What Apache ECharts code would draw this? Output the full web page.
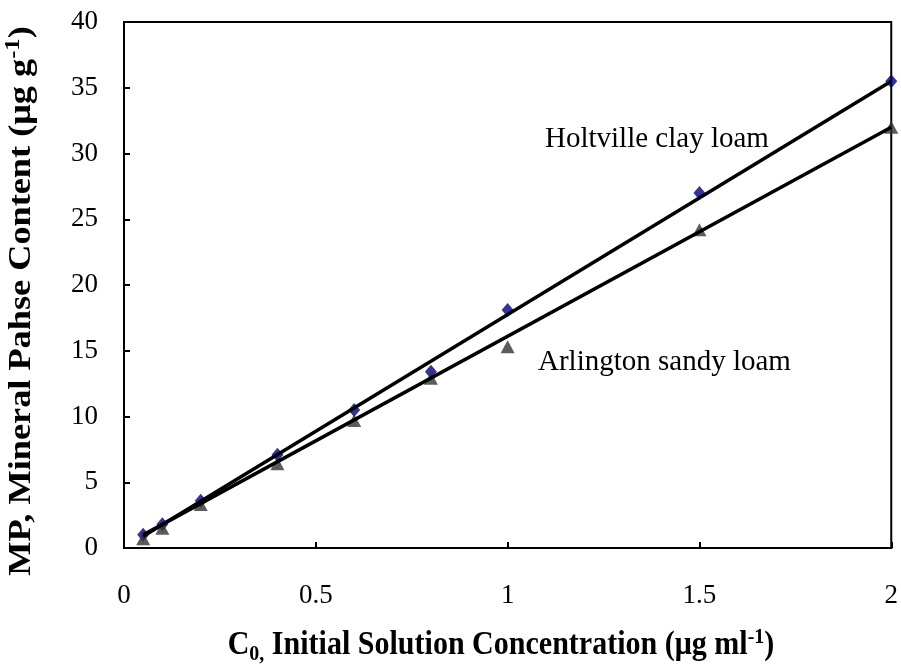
<!DOCTYPE html>
<html>
<head>
<meta charset="utf-8">
<script src="https://cdn.jsdelivr.net/npm/echarts@6/dist/echarts.min.js"></script>
<style>html,body{margin:0;padding:0;background:#fff}#c{width:901px;height:666px}</style>
</head>
<body>
<div id="c"></div>
<script>
var concentrations = [0.05, 0.1, 0.2, 0.4, 0.6, 0.8, 1, 1.5, 2];
var holtville = [1.0, 1.8, 3.6, 7.1, 10.5, 13.4, 18.1, 27.0, 35.5];
var arlington = [0.7, 1.5, 3.3, 6.4, 9.7, 12.9, 15.3, 24.2, 32.0];
var holtvilleFitX = [0.05, 2];
var holtvilleFitY = [0.9, 35.5];
var arlingtonFitX = [0.05, 2];
var arlingtonFitY = [1.0, 32.0];
var xTicks = [0, 0.5, 1, 1.5, 2];
var yTicks = [0, 5, 10, 15, 20, 25, 30, 35, 40];

function pairs(xs, ys){ return xs.map(function(x,i){ return [x, ys[i]]; }); }

var FONT = '"Liberation Serif", "Times New Roman", serif';
var chart = echarts.init(document.getElementById('c'), null, {renderer:'canvas'});
var axisCommon = {
  axisLine:{show:true, onZero:false, lineStyle:{color:'#000', width:2}},
  axisTick:{show:true, inside:true, length:6, lineStyle:{color:'#000', width:2}},
  splitLine:{show:false},
  axisLabel:{color:'#000', fontFamily:FONT, fontSize:27}
};
chart.setOption({
  animation:false,
  backgroundColor:'#fff',
  grid:{left:124, right:9, top:22, bottom:118, show:true, borderColor:'#000', borderWidth:2},
  xAxis:Object.assign({}, axisCommon, {
    type:'value', min:xTicks[0], max:xTicks[xTicks.length-1], interval:0.5,
    axisLabel:Object.assign({}, axisCommon.axisLabel, {margin:34})
  }),
  yAxis:Object.assign({}, axisCommon, {
    type:'value', min:yTicks[0], max:yTicks[yTicks.length-1], interval:5,
    axisLabel:Object.assign({}, axisCommon.axisLabel, {margin:26})
  }),
  series:[
    {type:'scatter', name:'Holtville clay loam', data:pairs(concentrations, holtville),
     symbol:'diamond', symbolSize:[12,14], itemStyle:{color:'#000080'}, z:2},
    {type:'scatter', name:'Arlington sandy loam', data:pairs(concentrations, arlington),
     symbol:'triangle', symbolSize:[14,13], itemStyle:{color:'#333333'}, z:2},
    {type:'line', data:pairs(holtvilleFitX, holtvilleFitY), symbol:'none',
     lineStyle:{color:'#000', width:3.5}, z:3},
    {type:'line', data:pairs(arlingtonFitX, arlingtonFitY), symbol:'none',
     lineStyle:{color:'#000', width:3.5}, z:3}
  ],
  graphic:[
    {type:'text', x:545, y:139, style:{text:'Holtville clay loam', font:'29px '+FONT, fill:'#000', verticalAlign:'middle'}},
    {type:'text', x:538, y:362, style:{text:'Arlington sandy loam', font:'29px '+FONT, fill:'#000', verticalAlign:'middle'}},
    {type:'text', x:501, y:645, scaleX:0.91,
     style:{text:'{b|C}{s|0,}{b| Initial Solution Concentration (μg ml}{p|-1}{b|)}', align:'center', verticalAlign:'middle',
      rich:{
        b:{font:'bold 33px '+FONT, fill:'#000', lineHeight:40},
        s:{font:'bold 22px '+FONT, fill:'#000', padding:[18,0,0,0], lineHeight:40},
        p:{font:'bold 22px '+FONT, fill:'#000', padding:[0,0,16,0], lineHeight:40}
      }}},
    {type:'text', x:22, y:301, rotation:Math.PI/2, scaleX:1.17,
     style:{text:'{b|MP, Mineral Pahse Content (μg g}{p|-1}{b|)}', align:'center', verticalAlign:'middle',
      rich:{
        b:{font:'bold 31px '+FONT, fill:'#000', lineHeight:38},
        p:{font:'bold 21px '+FONT, fill:'#000', padding:[0,0,16,0], lineHeight:38}
      }}}
  ]
});
</script>
</body>
</html>
